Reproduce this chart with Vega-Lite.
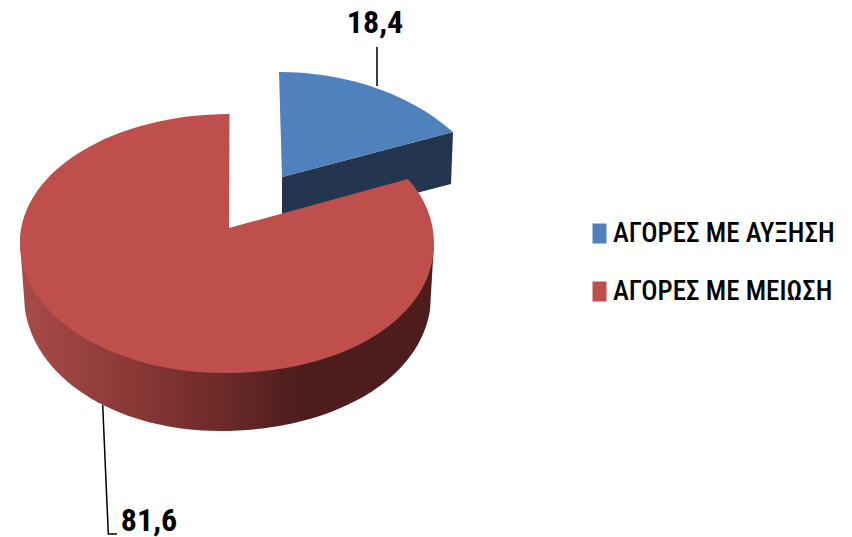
{"$schema":"https://vega.github.io/schema/vega-lite/v6.json","width":852,"height":537,"autosize":{"type":"fit","contains":"padding"},"padding":0,"background":"white","view":{"stroke":null},
"data":{"values":[{"category":"ΑΓΟΡΕΣ ΜΕ ΑΥΞΗΣΗ","value":18.4,"label":"18,4"},{"category":"ΑΓΟΡΕΣ ΜΕ ΜΕΙΩΣΗ","value":81.6,"label":"81,6"}]},
"layer":[
{"transform":[{"filter":"datum.value<50"}],"mark":{"type":"point","shape":"M-49,-221.5L-49,-182.5","size":4,"filled":false,"stroke":"#000","strokeWidth":1.5,"opacity":1}},
{"transform":[{"filter":"datum.value>50"}],"mark":{"type":"point","shape":"M-323.3,136.5L-317.7,265.5L-309,265.5","size":4,"filled":false,"stroke":"#000","strokeWidth":1.5,"opacity":1}},
{"transform":[{"filter":"datum.value<50"}],"mark":{"type":"point","shape":"M-144,-91.5L27,-136.5L25,-84.5L-144,-40.5Z","size":4,"filled":true,"fill":"#24364F","opacity":1}},
{"transform":[{"filter":"datum.value<50"}],"mark":{"type":"point","shape":"M-147,-196.5C-86,-196.5,-21,-178.5,27,-136.5L-144,-91.5Z","size":4,"filled":true,"opacity":1},"encoding":{"color":{"field":"category","type":"nominal","scale":{"domain":["ΑΓΟΡΕΣ ΜΕ ΑΥΞΗΣΗ","ΑΓΟΡΕΣ ΜΕ ΜΕΙΩΣΗ"],"range":["#4F81BD","#BE4F4C"]},"legend":{"orient":"none","legendX":586,"legendY":220,"title":null,"symbolType":"M-0.7,-1L0.7,-1L0.7,1L-0.7,1Z","symbolSize":400,"symbolStrokeWidth":0,"symbolOpacity":1,"labelFont":"Roboto Condensed, Liberation Sans","labelFontSize":27,"labelFontWeight":500,"labelColor":"#000","labelOffset":0,"labelLimit":300,"rowPadding":30}}}},
{"transform":[{"filter":"datum.value>50"}],"mark":{"type":"point","shape":"M-406,-25.5L-401,41.5C-389,116.5,-301,162.5,-206,162.5C-101,162.5,-8,116.5,4,41.5L8,-25.5Z","size":4,"filled":true,"opacity":1,"fill":{"gradient":"linear","x1":0,"y1":0,"x2":1,"y2":0,"stops":[{"offset":0,"color":"#A84C49"},{"offset":0.27,"color":"#8A3836"},{"offset":0.49,"color":"#6B2A29"},{"offset":0.68,"color":"#4C1D1C"},{"offset":1,"color":"#4C1D1C"}]}}},
{"transform":[{"filter":"datum.value>50"}],"mark":{"type":"point","shape":"M-196.5,-154.5C-311,-154.5,-406,-98.5,-406,-25.5C-406,49.5,-311,104.5,-201,104.5C-81,104.5,8,49.5,8,-25.5C8,-48.5,-1,-70.5,-18,-89.5L-197,-40.5Z","size":4,"filled":true,"opacity":1},"encoding":{"color":{"field":"category","type":"nominal"}}},
{"transform":[{"filter":"datum.value<50"}],"mark":{"type":"text","font":"Roboto Condensed, Liberation Sans","fontSize":32,"fontWeight":"bold","color":"#000","dx":-51,"dy":-245.5,"baseline":"middle","align":"center"},"encoding":{"text":{"field":"label"}}},
{"transform":[{"filter":"datum.value>50"}],"mark":{"type":"text","font":"Roboto Condensed, Liberation Sans","fontSize":32,"fontWeight":"bold","color":"#000","dx":-277,"dy":252,"baseline":"middle","align":"center"},"encoding":{"text":{"field":"label"}}}
]}
